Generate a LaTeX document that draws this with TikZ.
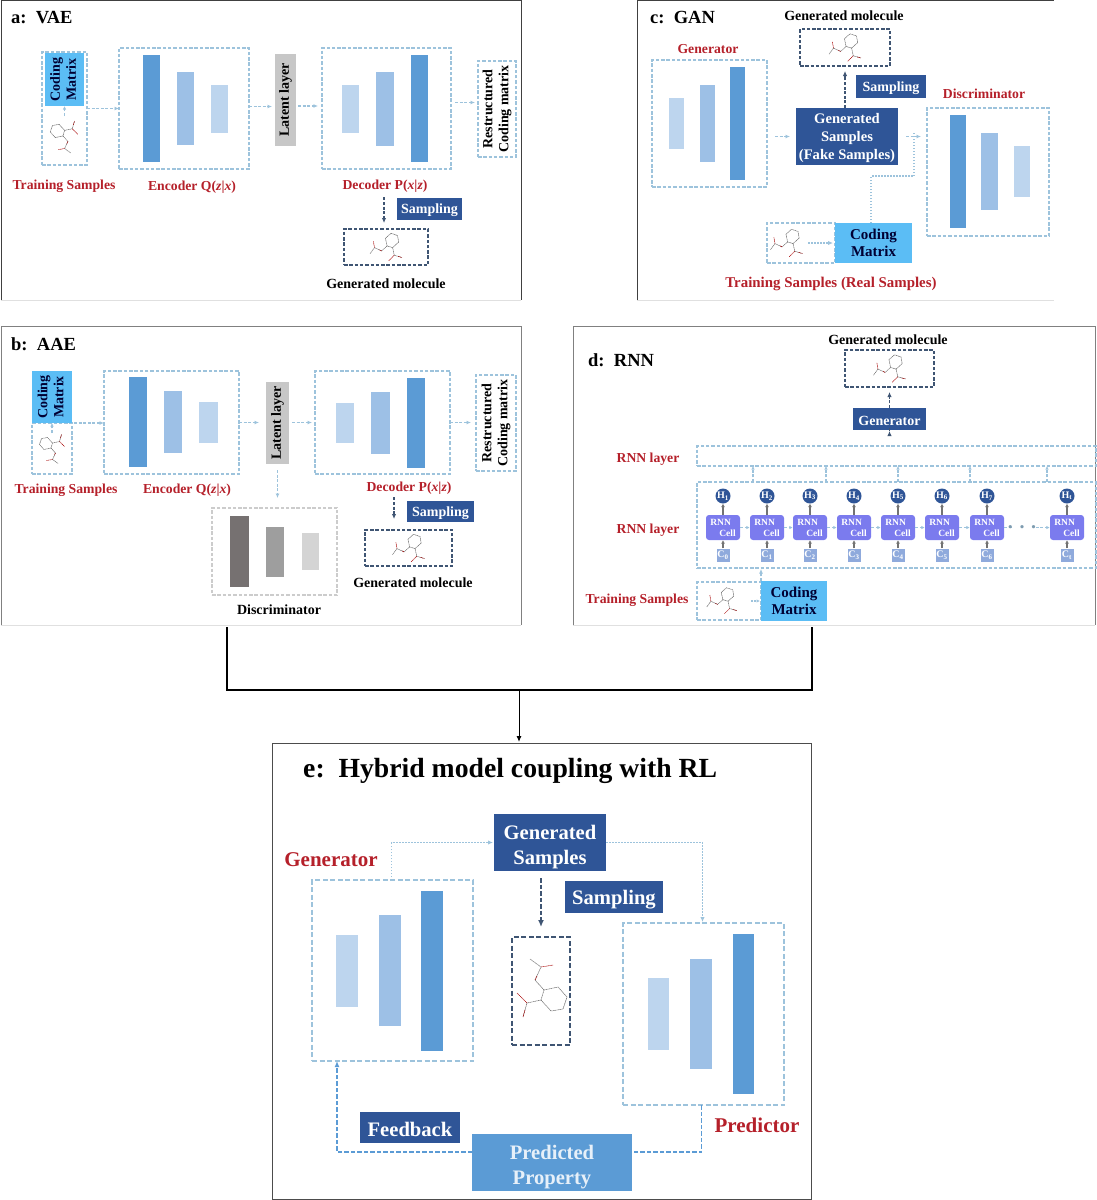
\documentclass[tikz,border=0pt]{standalone}
\usepackage{fontspec}
\setmainfont{Liberation Serif}
\usetikzlibrary{calc,arrows.meta}

\definecolor{barhi}{HTML}{5B9BD5}
\definecolor{barmid}{HTML}{9DC0E6}
\definecolor{barlow}{HTML}{BDD5EE}
\definecolor{discdark}{HTML}{767171}
\definecolor{navybox}{HTML}{2F5597}
\definecolor{skybox}{HTML}{5BBDF5}
\definecolor{dashblue}{HTML}{9DC3DC}
\definecolor{dashdark}{HTML}{3F5573}
\definecolor{labelred}{HTML}{B5202A}
\definecolor{cellblue}{HTML}{7B7BEE}
\definecolor{inblue}{HTML}{8FAADC}

\tikzset{
  pxnode/.style={inner sep=0pt,outer sep=0pt,align=center,font=\bfseries\fontsize{14}{17}\selectfont,execute at begin node={\rule{0pt}{.9em}}},
  netbox/.style={pxnode,draw=dashblue,dash pattern=on 3.5pt off 1.8pt,line width=1.2pt},
  netboxe/.style={netbox,dash pattern=on 5pt off 2.5pt,line width=1.6pt},
  molbox/.style={pxnode,draw=dashdark,dash pattern=on 3.5pt off 1.8pt,line width=1.4pt},
  graybox/.style={pxnode,draw=black!20,dash pattern=on 3.5pt off 1.8pt,line width=1.2pt},
  navy/.style={pxnode,fill=navybox,text=white},
  navye/.style={navy,font=\bfseries\fontsize{20.6}{25}\selectfont},
  sky/.style={pxnode,fill=skybox,text=black!80!blue},
  skywide/.style={sky,font=\bfseries\fontsize{15}{17}\selectfont},
  latent/.style={pxnode,fill=black!22,text=black},
  redlab/.style={font=\bfseries\fontsize{13.7}{15}\selectfont,text=labelred,inner sep=0pt,yshift=-1pt},
  redlabe/.style={redlab,font=\bfseries\fontsize{21}{23}\selectfont},
  blacklab/.style={font=\bfseries\fontsize{14}{15}\selectfont,text=black,inner sep=0pt},
  panellab/.style={font=\bfseries\fontsize{18.5}{20}\selectfont,text=black,inner sep=0pt,anchor=west},
  flow/.style={draw=dashblue,dash pattern=on 3pt off 1.6pt,line width=1.1pt,-{Latex[length=4.5pt,width=4pt]}},
  flowdot/.style={draw=dashblue,dash pattern=on 1.5pt off 1.5pt,line width=1.5pt,-{Latex[length=5pt,width=4.5pt]}},
  flowdark/.style={draw=dashdark,dash pattern=on 3pt off 1.6pt,line width=1.2pt,-{Latex[length=5pt,width=4.5pt]}},
  flowe/.style={draw=barhi,dash pattern=on 4.5pt off 2pt,line width=1.4pt,-{Latex[length=6pt,width=5pt]}},
  stepup/.style={draw=black!55,line width=1.2pt,-{Latex[length=3.5pt,width=4pt]}},
  tiny flow/.style={flow,-{Latex[length=3.5pt,width=3.5pt]}},
  frame/.style={draw=black!75,line width=1pt},
  framelow/.style={draw=black!12,line width=1pt},
  joinline/.style={draw=black,line width=1.3pt},
  moldash/.style={line width=.5pt,dash pattern=on 1.2pt off .5pt},
  mol/.pic={
    \draw[black!60,moldash] (-9,-8) -- (5,-11) -- (14,-1) -- (10,11) -- (-2,13) -- (-12,2) -- cycle;
    \draw[black!60,moldash] (-9,-8) -- (-18,-18) -- (-12,-31) -- (-23,-39);
    \draw[black!60,moldash] (-12,2) -- (-26,5) -- (-30,19);
    \draw[red!65!black,moldash] (-18,-18) -- (-16,-22) (-12,-31) -- (0,-33) (-26,5) -- (-36,-5) (-28,12) -- (-30,19);
  }
}
% box node from two corners, in pixels of the reference
\newcommand{\pxbox}[7]{\node[#1,minimum width={#5-#3},minimum height={#6-#4}] (#2) at ({(#3+#5)/2},{(#4+#6)/2}) {#7};}

\begin{document}
\begin{tikzpicture}[x=1pt,y=-1pt]
\useasboundingbox (0,0) rectangle (1096,1200);

% --- a: VAE ---
\draw[frame] (1,300) -- (1,0.5) -- (521,0.5) -- (521,300);
\draw[framelow] (1,300) -- (521,300);
\node[panellab] (atitle) at (11,18) {a:\ \ VAE};
\pxbox{netbox}{atrain}{42}{52}{87}{165}{}
\pxbox{sky}{acode}{45}{53}{84}{106}{\rotatebox{90}{\begin{tabular}{@{}c@{}}Coding\\[-1pt]Matrix\end{tabular}}}
\pic[scale=.55,rotate=180] at (58,131.5) {mol};
\pxbox{netbox}{aenc}{119}{48}{249}{169}{}
\foreach \xa/\xb/\ya/\yb/\col in {143/160/55/162/barhi,177/194/72/145/barmid,211/228/85/133/barlow}
  \fill[\col] (\xa,\ya) rectangle (\xb,\yb);
\pxbox{latent}{alat}{275}{54}{296}{146}{\rotatebox{90}{Latent layer}}
\pxbox{netbox}{adec}{322}{48}{451}{169}{}
\foreach \xa/\xb/\ya/\yb/\col in {342/359/85/133/barlow,376/394/72/146/barmid,411/428/55/162/barhi}
  \fill[\col] (\xa,\ya) rectangle (\xb,\yb);
\pxbox{netbox}{arest}{478}{61}{516}{157}{\rotatebox{90}{\begin{tabular}{@{}c@{}}Restructured\\[-1pt]Coding matrix\end{tabular}}}
\node[redlab] (atrainlab) at (64,185) {Training Samples};
\node[redlab] (aenclab) at (192,186) {Encoder Q(\textit{z}|\textit{x})};
\node[redlab] (adeclab) at (385,185) {Decoder P(\textit{x}|\textit{z})};
\pxbox{navy}{asamp}{397}{198}{462}{220}{Sampling}
\pxbox{molbox}{amol}{344}{229}{428}{265}{}
\pic[scale=.55,rotate=90] at (391.5,241) {mol};
\node[blacklab] (amollab) at (386,284) {Generated molecule};
\draw[flow] (atrain.east) -- (aenc.west |- atrain.east);
\draw[flow] ([yshift=2pt]aenc.east) -- ([yshift=2pt,xshift=-3pt]aenc.east -| alat.west);
\draw[flow] ([yshift=-6pt,xshift=2pt]alat.east) -- ([yshift=-6pt,xshift=-4pt]alat.east -| adec.west);
\draw[flow] ([yshift=6pt,xshift=4pt]adec.east) -- ([yshift=6pt,xshift=-3pt]adec.east -| arest.west);
\draw[tiny flow] ([yshift=-10pt]acode.south) -- (acode.south);
\draw[flowdark] ([yshift=-5pt,xshift=-1pt]adeclab.south) -- ([yshift=6pt,xshift=-1pt]adeclab.south |- amol.north);

% --- b: AAE ---
\draw[frame,draw=black!50] (1,625) -- (1,326.5) -- (521,326.5) -- (521,625);
\draw[framelow] (1,625) -- (521,625);
\node[panellab] (btitle) at (11,344) {b:\ \ AAE};
\pxbox{netbox}{btrain}{32}{423}{72}{474}{}
\pxbox{sky}{bcode}{32}{371}{72}{423}{\rotatebox{90}{\begin{tabular}{@{}c@{}}Coding\\[-1pt]Matrix\end{tabular}}}
\pic[scale=.5,rotate=180] at (46.5,444) {mol};
\pxbox{netbox}{benc}{104}{371}{239}{474}{}
\foreach \xa/\xb/\ya/\yb/\col in {129/147/377/467/barhi,164/182/391/453/barmid,199/218/402/443/barlow}
  \fill[\col] (\xa,\ya) rectangle (\xb,\yb);
\pxbox{latent}{blat}{266}{382}{289}{464}{\rotatebox{90}{Latent layer}}
\pxbox{netbox}{bdec}{315}{371}{450}{474}{}
\foreach \xa/\xb/\ya/\yb/\col in {336/354/403/443/barlow,371/390/392/454/barmid,407/425/378/468/barhi}
  \fill[\col] (\xa,\ya) rectangle (\xb,\yb);
\pxbox{netbox}{brest}{476}{375}{516}{471}{\rotatebox{90}{\begin{tabular}{@{}c@{}}Restructured\\[-1pt]Coding matrix\end{tabular}}}
\node[redlab] (btrainlab) at (66,489) {Training Samples};
\node[redlab] (benclab) at (187,489) {Encoder Q(\textit{z}|\textit{x})};
\node[redlab] (bdeclab) at (409,487) {Decoder P(\textit{x}|\textit{z})};
\pxbox{navy}{bsamp}{407}{501}{474}{522}{Sampling}
\pxbox{molbox}{bmol}{365}{530}{452}{566}{}
\pic[scale=.55,rotate=90] at (414,542) {mol};
\node[blacklab] (bmollab) at (413,583) {Generated molecule};
\pxbox{graybox}{bdisc}{212}{508}{337}{595}{}
\foreach \xa/\xb/\ya/\yb/\col in {230/249/516/587/discdark,266/284/527/577/black!38,302/319/533/570/black!17}
  \fill[\col] (\xa,\ya) rectangle (\xb,\yb);
\node[blacklab] (bdisclab) at (279,610) {Discriminator};
\draw[flow] ([xshift=2pt]bcode.south east) -- (benc.west |- bcode.south east);
\draw[flow] (benc.east) -- ([xshift=-7pt]benc.east -| blat.west);
\draw[flow] ([xshift=3pt]blat.east |- benc.east) -- ([xshift=-3pt]bdec.west);
\draw[flow] (bdec.east) -- ([xshift=-5pt]bdec.east -| brest.west);
\draw[tiny flow] ([yshift=-10pt]bcode.south) -- (bcode.south);
\draw[flow] ([yshift=-6pt]blat.south) -- ([yshift=10pt]blat.south |- bdisc.north);
\draw[flowdark] ([yshift=-3pt,xshift=-15pt]bdeclab.south) -- ([yshift=11pt,xshift=-15pt]bdeclab.south |- bmol.north);

% --- c: GAN ---
\draw[frame] (637,300) -- (637,0.5) -- (1054,0.5);
\draw[framelow] (637,300) -- (1054,300);
\node[panellab] (ctitle) at (650,18) {c:\ \ GAN};
\node[blacklab] (cmollab) at (844,16) {Generated molecule};
\pxbox{molbox}{cmol}{800}{29}{890}{66}{}
\pic[scale=.55,rotate=90] at (850.5,41.5) {mol};
\node[redlab] (cgenlab) at (708,48) {Generator};
\pxbox{netbox}{cgen}{652}{60}{767}{187}{}
\foreach \xa/\xb/\ya/\yb/\col in {669/684/98/149/barlow,700/715/85/162/barmid,730/745/67/180/barhi}
  \fill[\col] (\xa,\ya) rectangle (\xb,\yb);
\pxbox{navy,font=\bfseries\fontsize{14.6}{18}\selectfont}{cfake}{796}{108}{898}{165}{\rule{0pt}{.96em}Generated\\Samples\\(Fake Samples)}
\pxbox{navy}{csamp}{856}{75}{926}{98}{Sampling}
\node[redlab] (cdisclab) at (984,93) {Discriminator};
\pxbox{netbox}{cdisc}{927}{108}{1049}{236}{}
\foreach \xa/\xb/\ya/\yb/\col in {950/966/115/228/barhi,981/998/133/210/barmid,1014/1030/146/197/barlow}
  \fill[\col] (\xa,\ya) rectangle (\xb,\yb);
\pxbox{netbox}{ctrain}{767}{223}{835}{263}{}
\pxbox{skywide}{ccode}{835}{223}{912}{263}{Coding\\Matrix}
\pic[scale=.55,rotate=90] at (792,237) {mol};
\node[redlab,font=\bfseries\fontsize{14.9}{16}\selectfont] (ctrainlab) at (831,283) {Training Samples (Real Samples)};
\coordinate (cjoin) at (914,176);
\draw[flow] ([xshift=8pt]cgen.east |- cfake.west) -- ([xshift=-6pt]cfake.west);
\draw[flow] ([xshift=8pt]cfake.east) -- ([xshift=-6pt]cdisc.west |- cfake.east);
\draw[flowdot,-] ([xshift=36pt]ccode.north west) -- ([xshift=36pt]ccode.north west |- cjoin) -- (cjoin) -- ++(0,-44);
\draw[flowdot] ([xshift=-27pt]ctrain.east) -- ([xshift=-2pt]ctrain.east);
\draw[flowdark] ([xshift=-2pt]cfake.north) -- ([xshift=-2pt,yshift=-5pt]cfake.north |- cmol.south);

% --- d: RNN ---
\draw[frame,draw=black!50] (573,625) -- (573,326.5) -- (1095.5,326.5) -- (1095.5,625);
\draw[framelow] (573,625) -- (1095,625);
\node[panellab] (dtitle) at (588,360) {d:\ \ RNN};
\node[blacklab] (dmollab) at (888,340) {Generated molecule};
\pxbox{molbox}{dmol}{845}{350}{934}{387}{}
\pic[scale=.55,rotate=90] at (895,362.5) {mol};
\pxbox{navy}{dgen}{853}{408}{926}{430}{Generator}
\pxbox{netbox}{dtop}{697}{446}{1096}{466}{}
\pxbox{netbox}{dcells}{697}{482}{1096}{568}{}
\node[redlab] (dtoplab) at (648,458) {RNN layer};
\node[redlab] (dcellslab) at (648,529) {RNN layer};
\foreach \i/\x/\lab in {1/723/1,2/767/2,3/810/3,4/854/4,5/898/5,6/942/6,7/987/7,8/1067/t} {
  \pgfmathtruncatemacro{\inlab}{\i-1}
  \node[circle,fill=navybox,text=white,minimum size=15pt,inner sep=0pt,font=\bfseries\fontsize{10}{10}\selectfont] (dh\i) at (\x,496) {H\textsubscript{\lab}};
  \node[fill=cellblue,text=white,rounded corners=3pt,minimum width=34pt,minimum height=25pt,inner sep=0pt,align=left,font=\bfseries\fontsize{9.5}{11}\selectfont] (dcell\i) at (\x,527.5) {RNN\\\hspace*{9pt}Cell};
  \node[fill=inblue,text=white,minimum size=13pt,inner sep=0pt,font=\bfseries\fontsize{10}{10}\selectfont] (dc\i) at (\x,555) {C\textsubscript{\ifnum\i=8 t\else\inlab\fi}};
  \draw[stepup] (dc\i) -- (dcell\i);
  \draw[stepup] (dcell\i) -- (dh\i);
}
\foreach \i/\j in {1/2,2/3,3/4,4/5,5/6,6/7}
  \draw[tiny flow] (dcell\i) -- (dcell\j);
\draw[flow,-] (dcell7) -- ++(26,0);
\draw[tiny flow] ([xshift=-14pt]dcell8.west) -- (dcell8);
\node[font=\bfseries\fontsize{20}{20}\selectfont,text=dashblue!80!black,inner sep=0pt] (ddots) at (1022,527) {. . .};
\foreach \x in {753,826,898,970,1047} {
  \coordinate (dtap) at (\x,0);
  \draw[tiny flow] (dtap |- dcells.north) -- (dtap |- dtop.south);
}
\pxbox{netbox}{dtrain}{697}{582}{761}{620}{}
\pxbox{skywide}{dcode}{761}{581}{827}{621}{Coding\\Matrix}
\pic[scale=.52,rotate=90] at (727,595) {mol};
\node[redlab] (dtrainlab) at (637,599) {Training Samples};
\draw[flowdark] (dgen.north) -- ([yshift=-5pt]dgen.north |- dmol.south);
\draw[flowdark] ([yshift=15pt]dgen.south |- dtop.north) -- ([yshift=-1pt]dgen.south);
\draw[flow] (dcode.north west) -- ([yshift=-1pt]dcode.north west |- dcells.south);
\draw[flowdot,-{Latex[length=3.5pt,width=3.5pt]}] ([xshift=-10pt]dcode.west) -- ([xshift=-1pt]dcode.west);

% --- joining lines ---
\coordinate (bfoot) at (227,627);
\coordinate (dfoot) at (812,627);
\coordinate (hub) at (519,690);
\pxbox{pxnode,draw=black!70,line width=1pt}{panele}{272}{743}{811}{1199}{}
\draw[joinline] (bfoot) -- (bfoot |- hub) -- (hub -| dfoot) -- (dfoot);
\draw[joinline,line width=1pt,-{Latex[length=6pt,width=5pt]},shorten >=1pt] (hub) -- (hub |- panele.north);

% --- e: hybrid model ---
\node[font=\bfseries\fontsize{27.7}{29}\selectfont,inner sep=0pt,anchor=west] (etitle) at (303,771) {e:\ \ Hybrid model coupling with RL};
\node[redlabe] (egenlab) at (331,859) {Generator};
\pxbox{netboxe}{egen}{312}{880}{473}{1061}{}
\foreach \xa/\xb/\ya/\yb/\col in {336/358/935/1007/barlow,379/401/915/1026/barmid,421/443/891/1051/barhi}
  \fill[\col] (\xa,\ya) rectangle (\xb,\yb);
\pxbox{navye}{esamples}{494}{814}{606}{871}{\rule{0pt}{1.1em}Generated\\Samples}
\pxbox{navye}{esamp}{565}{881}{663}{913}{Sampling}
\pxbox{molbox,line width=1.8pt,dash pattern=on 5pt off 2.5pt}{emol}{512}{937}{570}{1045}{}
\pic at (553,998) {mol};
\pxbox{netboxe}{epred}{623}{923}{784}{1105}{}
\foreach \xa/\xb/\ya/\yb/\col in {648/669/978/1050/barlow,690/712/959/1069/barmid,733/754/934/1094/barhi}
  \fill[\col] (\xa,\ya) rectangle (\xb,\yb);
\node[redlabe] (epredlab) at (757,1124) {Predictor};
\pxbox{navye}{efeed}{360}{1112}{460}{1143}{Feedback}
\pxbox{navye,fill=barhi,text=white!85!barhi}{eprop}{472}{1134}{632}{1191}{\rule{0pt}{1.1em}Predicted\\Property}
\coordinate (epropy) at (0,1152);
\draw[flowdot,shorten >=1pt] ([xshift=-1pt]egen.north) -- ([xshift=-1pt]egen.north |- esamples.west) -- (esamples.west);
\draw[flowdot,shorten >=1pt] (esamples.east) -- ([xshift=-1pt]epred.north |- esamples.east) -- ([xshift=-1pt]epred.north);
\draw[flowdark,line width=1.6pt,dash pattern=on 4.5pt off 2pt,-{Latex[length=7pt,width=6pt]}] ([yshift=-7pt,xshift=-9pt]esamples.south) -- ([yshift=10pt,xshift=0pt]emol.north);
\draw[flowe,-] ([xshift=-2pt]epred.south) -- ([xshift=-2pt]epred.south |- epropy) -- (eprop.east |- epropy);
\draw[flowe] (eprop.west |- epropy) -- ([xshift=-55.5pt]egen.south |- epropy) -- ([xshift=-55.5pt]egen.south);
\end{tikzpicture}
\end{document}
